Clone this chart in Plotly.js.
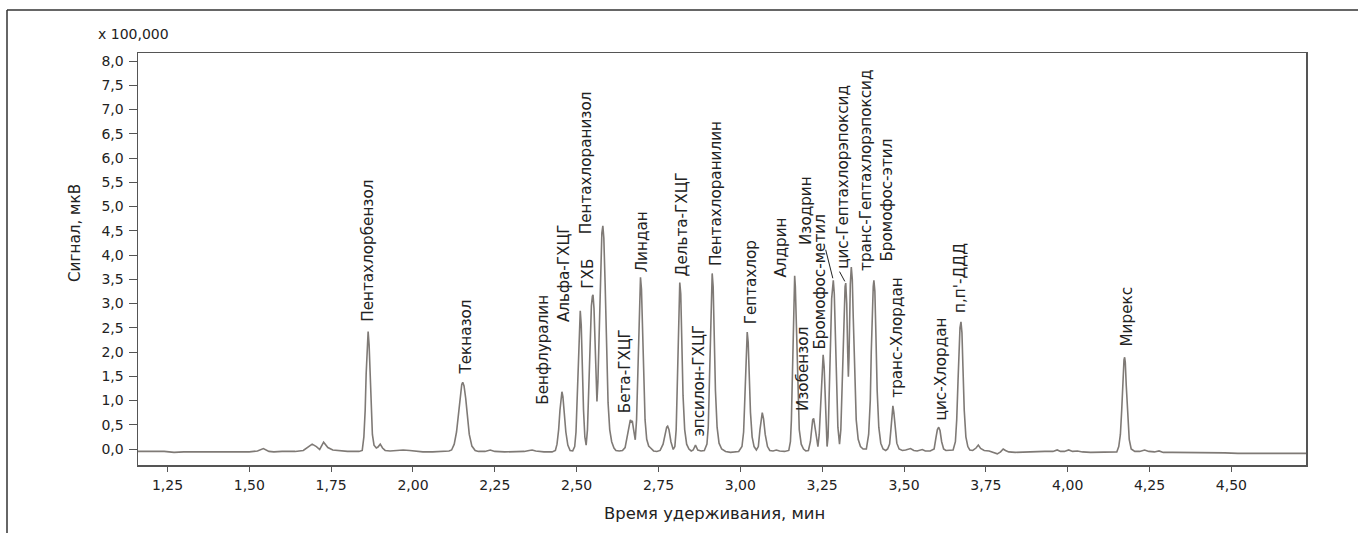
<!DOCTYPE html>
<html>
<head>
<meta charset="utf-8">
<script src="https://cdn.plot.ly/plotly-3.0.1.min.js"></script>
<style>html,body{margin:0;padding:0;background:#fff;}#chart{width:1358px;height:533px;}</style>
</head>
<body>
<div id="chart"></div>
<script>
// ---- DATA ----
// chromatogram points: [retention time (min), signal (x100,000 µV)]
const chromPoints = [
[1.160,-0.05],[1.200,-0.05],[1.240,-0.05],[1.270,-0.07],[1.300,-0.06],[1.350,-0.06],[1.400,-0.06],[1.450,-0.06],[1.500,-0.06],[1.525,-0.04],[1.543,0.01],[1.560,-0.05],[1.575,-0.06],[1.600,-0.05],[1.640,-0.05],[1.665,-0.03],[1.680,0.05],[1.692,0.10],[1.705,0.05],[1.715,-0.01],[1.727,0.14],[1.740,0.03],[1.755,-0.02],[1.780,-0.04],[1.800,-0.05],[1.835,-0.05],
[1.845,-0.03],[1.850,0.25],[1.854,0.80],[1.857,1.55],[1.860,2.15],[1.863,2.42],[1.866,2.15],[1.869,1.50],[1.872,0.80],[1.876,0.30],[1.881,0.08],[1.888,0.02],[1.893,0.04],[1.900,0.10],[1.907,0.02],[1.915,-0.03],[1.930,-0.04],[1.950,-0.03],[1.970,-0.02],[1.990,-0.03],[2.010,-0.05],[2.030,-0.06],[2.060,-0.06],[2.090,-0.05],[2.110,-0.04],
[2.118,-0.02],[2.126,0.10],[2.133,0.35],[2.139,0.75],[2.145,1.15],[2.149,1.33],[2.152,1.375],[2.156,1.30],[2.161,1.05],[2.166,0.65],[2.172,0.30],[2.180,0.06],[2.190,-0.03],[2.200,-0.05],[2.220,-0.05],[2.236,-0.02],[2.250,-0.05],[2.280,-0.06],[2.310,-0.06],[2.340,-0.05],[2.355,-0.03],[2.364,-0.02],[2.375,-0.04],[2.400,-0.06],[2.425,-0.06],[2.435,-0.03],
[2.440,0.10],[2.445,0.40],[2.449,0.80],[2.452,1.08],[2.455,1.18],[2.458,1.08],[2.462,0.75],[2.467,0.35],[2.473,0.08],[2.480,-0.03],[2.488,-0.04],[2.494,0.05],
[2.498,0.35],[2.502,1.10],[2.505,1.90],[2.508,2.60],[2.511,2.85],[2.514,2.55],[2.517,1.70],[2.521,0.80],[2.525,0.25],[2.529,0.08],[2.533,0.40],[2.537,1.30],[2.541,2.30],[2.545,2.95],[2.548,3.15],[2.550,3.18],[2.553,2.90],[2.557,1.90],[2.560,1.20],[2.562,0.98],[2.565,1.40],[2.569,2.60],[2.573,3.80],[2.577,4.45],[2.580,4.60],[2.583,4.35],[2.587,3.40],[2.591,2.10],[2.596,0.95],[2.601,0.40],[2.607,0.15],[2.614,0.02],[2.620,-0.03],[2.630,-0.04],[2.640,-0.03],[2.648,0.03],
[2.654,0.25],[2.659,0.50],[2.664,0.60],[2.667,0.56],[2.670,0.58],[2.674,0.40],[2.679,0.19],[2.683,0.60],[2.687,1.70],[2.690,2.70],[2.693,3.35],[2.695,3.54],[2.698,3.30],[2.701,2.50],[2.705,1.40],[2.709,0.60],[2.714,0.20],[2.720,0.06],[2.726,0.02],[2.735,-0.04],[2.745,-0.05],[2.755,-0.03],[2.764,0.10],[2.770,0.32],[2.775,0.45],[2.778,0.47],[2.782,0.40],[2.788,0.15],[2.795,-0.01],[2.800,0.05],
[2.804,0.40],[2.807,1.20],[2.810,2.30],[2.813,3.20],[2.815,3.43],[2.818,3.20],[2.821,2.30],[2.825,1.10],[2.830,0.40],[2.836,0.10],[2.843,0.00],[2.850,-0.04],[2.856,-0.02],[2.863,0.08],[2.870,-0.02],[2.880,-0.04],[2.890,-0.03],[2.898,0.10],
[2.902,0.45],[2.905,1.20],[2.908,2.30],[2.911,3.25],[2.914,3.62],[2.917,3.35],[2.920,2.40],[2.924,1.20],[2.929,0.45],[2.935,0.12],[2.943,0.00],[2.955,-0.05],[2.970,-0.07],[2.985,-0.06],[2.995,-0.05],[3.005,0.05],
[3.010,0.35],[3.013,0.90],[3.016,1.65],[3.019,2.25],[3.021,2.41],[3.024,2.20],[3.027,1.55],[3.031,0.75],[3.036,0.25],[3.042,0.05],[3.049,-0.02],[3.055,0.05],[3.060,0.40],[3.064,0.68],[3.067,0.75],[3.071,0.62],[3.076,0.30],[3.083,0.05],[3.090,-0.03],[3.100,-0.04],[3.110,-0.02],[3.120,-0.04],[3.135,-0.05],[3.148,-0.03],[3.153,0.15],
[3.156,0.60],[3.159,1.50],[3.162,2.70],[3.164,3.35],[3.166,3.57],[3.168,3.35],[3.171,2.50],[3.175,1.20],[3.180,0.40],[3.186,0.10],[3.193,0.00],[3.200,-0.04],[3.208,-0.03],[3.214,0.15],[3.218,0.45],[3.221,0.60],[3.224,0.63],[3.228,0.45],[3.233,0.15],[3.237,0.05],[3.241,0.30],[3.245,0.90],[3.249,1.60],[3.251,1.85],[3.253,1.94],[3.256,1.70],[3.259,1.00],[3.262,0.40],[3.265,0.05],[3.268,0.25],[3.272,1.10],[3.276,2.30],[3.279,3.10],[3.282,3.42],[3.284,3.48],[3.287,3.20],[3.290,2.40],[3.294,1.20],[3.298,0.45],[3.303,0.10],[3.307,0.40],[3.311,1.30],[3.315,2.40],[3.318,3.10],[3.320,3.35],[3.322,3.42],[3.325,3.00],[3.328,2.00],[3.330,1.49],[3.332,1.90],[3.334,2.80],[3.336,3.40],[3.339,3.75],[3.342,3.50],[3.345,2.70],[3.349,1.50],[3.354,0.60],[3.360,0.20],[3.367,0.05],[3.375,0.00],[3.385,0.00],
[3.392,0.30],[3.397,1.00],[3.400,2.00],[3.403,2.90],[3.406,3.35],[3.408,3.48],[3.411,3.25],[3.414,2.40],[3.418,1.20],[3.423,0.45],[3.429,0.12],[3.436,0.00],[3.444,-0.03],[3.450,0.00],[3.456,0.10],[3.460,0.40],[3.463,0.75],[3.466,0.89],[3.469,0.75],[3.473,0.40],[3.478,0.12],[3.485,0.00],[3.495,-0.03],[3.505,-0.02],[3.520,0.01],[3.530,-0.03],[3.540,-0.04],[3.556,-0.01],[3.565,-0.04],[3.580,-0.04],[3.592,0.00],[3.598,0.25],[3.602,0.40],[3.606,0.45],[3.610,0.38],[3.615,0.15],[3.621,0.00],[3.628,-0.03],[3.640,-0.03],[3.650,-0.02],[3.657,0.15],[3.661,0.60],[3.665,1.40],[3.668,2.10],[3.671,2.50],[3.674,2.62],[3.677,2.40],[3.680,1.70],[3.684,0.80],[3.689,0.25],[3.695,0.05],[3.701,-0.02],[3.710,-0.03],[3.720,0.02],[3.727,0.08],[3.734,0.01],[3.745,-0.03],[3.760,-0.04],[3.775,-0.07],[3.785,-0.10],[3.795,-0.06],[3.803,0.00],[3.810,-0.03],[3.820,-0.06],[3.840,-0.07],[3.870,-0.06],[3.900,-0.05],[3.930,-0.05],[3.955,-0.05],[3.968,-0.02],[3.978,-0.05],[3.990,-0.05],[4.003,-0.02],[4.015,-0.05],[4.030,-0.04],[4.045,-0.06],[4.070,-0.07],[4.100,-0.07],[4.130,-0.07],[4.150,-0.06],
[4.156,0.05],[4.161,0.30],[4.165,0.80],[4.168,1.30],[4.170,1.65],[4.172,1.84],[4.174,1.89],[4.176,1.78],[4.179,1.30],[4.183,0.65],[4.188,0.20],[4.194,0.00],[4.205,-0.05],[4.220,-0.05],[4.235,-0.02],[4.248,-0.05],[4.265,-0.06],[4.279,-0.04],[4.292,-0.07],[4.320,-0.07],[4.360,-0.07],[4.400,-0.08],[4.440,-0.08],[4.480,-0.08],[4.520,-0.09],[4.560,-0.09],[4.600,-0.09],[4.650,-0.09],[4.700,-0.09],[4.728,-0.09]
];

const peakNames = ["Пентахлорбензол","Текназол","Бенфлуралин","Альфа-ГХЦГ","ГХБ","Пентахлоранизол","Бета-ГХЦГ","Линдан","Дельта-ГХЦГ","эпсилон-ГХЦГ","Пентахлоранилин","Гептахлор","Алдрин","Изобензол","Бромофос-метил","Изодрин","цис-Гептахлорэпоксид","транс-Гептахлорэпоксид","Бромофос-этил","транс-Хлордан","цис-Хлордан","п,п'-ДДД","Мирекс"];
const peakTimes = [1.863,2.152,2.455,2.511,2.550,2.580,2.664,2.695,2.815,2.863,2.914,3.021,3.166,3.224,3.253,3.284,3.322,3.339,3.408,3.466,3.606,3.674,4.174];
const peakHeights = [2.42,1.375,1.18,2.85,3.18,4.60,0.60,3.54,3.43,0.08,3.62,2.41,3.57,0.63,1.94,3.48,3.42,3.75,3.48,0.89,0.45,2.62,1.89];

const xTickVals = [1.25,1.50,1.75,2.00,2.25,2.50,2.75,3.00,3.25,3.50,3.75,4.00,4.25,4.50];
const xTickText = ["1,25","1,50","1,75","2,00","2,25","2,50","2,75","3,00","3,25","3,50","3,75","4,00","4,25","4,50"];
const yTickVals = [0,0.5,1,1.5,2,2.5,3,3.5,4,4.5,5,5.5,6,6.5,7,7.5,8];
const yTickText = ["0,0","0,5","1,0","1,5","2,0","2,5","3,0","3,5","4,0","4,5","5,0","5,5","6,0","6,5","7,0","7,5","8,0"];

const xTitle = "Время удерживания, мин";
const yTitle = "Сигнал, мкВ";
const yScaleNote = "x 100,000";

// ---- LAYOUT / STYLE ----
// label offsets from each peak apex in px [dx, dy(up)]
const labelShift = [[-1,8],[3,6],[-19,-15],[-16,-13],[-5,4],[-16,-10],[-5,5],[1,3],[2,4],[4,7],[4,5],[4,6],[-14,-4],[-10,5],[-3,3],[-28,33],[-3,12],[14,-6],[13,17],[4,6],[2,5],[-1,7],[2,9]];
// leader lines: peak index -> [ax, ay] px from apex
const leaders = {15:[-8,-32],16:[-7,-13]};

const FONT = '"DejaVu Sans", "Open Sans", sans-serif';
const TEXTC = '#222';

const trace = {
  type: 'scatter', mode: 'lines',
  x: chromPoints.map(p => p[0]),
  y: chromPoints.map(p => p[1]),
  line: {color: '#7f7a76', width: 1.6},
  hoverinfo: 'skip', showlegend: false
};

const annotations = peakNames.map((name, i) => ({
  x: peakTimes[i], y: peakHeights[i], xref: 'x', yref: 'y',
  text: name, showarrow: false, textangle: -90,
  xanchor: 'center', yanchor: 'bottom',
  xshift: labelShift[i][0], yshift: labelShift[i][1],
  font: {family: FONT, size: 15.2, color: TEXTC}
}));
Object.keys(leaders).forEach(k => {
  const i = +k;
  annotations.push({
    x: peakTimes[i], y: peakHeights[i], xref: 'x', yref: 'y',
    text: '', showarrow: true, arrowhead: 0, arrowwidth: 1, arrowcolor: '#222',
    ax: leaders[k][0], ay: leaders[k][1], standoff: 2
  });
});

const L = 138, R = 52, T = 53, B = 68, W = 1358, H = 533;
const pw = W - L - R, ph = H - T - B;
const px2x = p => (p - L) / pw;
const py2y = p => (H - B - p) / ph;

annotations.push({xref:'paper', yref:'paper', x: px2x(171), y: py2y(34), xanchor:'right', yanchor:'middle',
  text: yScaleNote, showarrow:false, font:{family:FONT, size:14, color:TEXTC}});
annotations.push({xref:'paper', yref:'paper', x: px2x(75), y: py2y(233), xanchor:'center', yanchor:'middle',
  text: yTitle, textangle:-90, showarrow:false, font:{family:FONT, size:15.2, color:TEXTC}});
annotations.push({xref:'paper', yref:'paper', x: px2x(714), y: py2y(513), xanchor:'center', yanchor:'middle',
  text: xTitle, showarrow:false, font:{family:FONT, size:16.4, color:TEXTC}});

const layout = {
  width: W, height: H,
  margin: {l: L, r: R, t: T, b: B, pad: 0},
  paper_bgcolor: '#ffffff', plot_bgcolor: '#ffffff',
  font: {family: FONT, size: 14, color: TEXTC},
  showlegend: false,
  xaxis: {
    range: [1.16, 4.728], tickvals: xTickVals, ticktext: xTickText,
    ticks: 'outside', ticklen: 5, tickwidth: 1, tickcolor: '#555',
    ticklabelstandoff: 2,
    showline: true, linecolor: '#555', linewidth: 1.5, mirror: true,
    showgrid: false, zeroline: false,
    tickfont: {family: FONT, size: 14, color: TEXTC}
  },
  yaxis: {
    range: [-0.33, 8.165], tickvals: yTickVals, ticktext: yTickText,
    ticks: 'outside', ticklen: 8, tickwidth: 1, tickcolor: '#555',
    ticklabelstandoff: 2,
    showline: true, linecolor: '#555', linewidth: 1.5, mirror: true,
    showgrid: false, zeroline: false,
    tickfont: {family: FONT, size: 14, color: TEXTC}
  },
  annotations: annotations,
  shapes: [
    {type:'line', xref:'paper', yref:'paper', x0:px2x(7), x1:px2x(7), y0:py2y(533), y1:py2y(10), line:{color:'#333', width:1.5}},
    {type:'line', xref:'paper', yref:'paper', x0:px2x(7), x1:px2x(1358), y0:py2y(10), y1:py2y(10), line:{color:'#333', width:1.5}}
  ]
};

Plotly.newPlot('chart', [trace], layout, {staticPlot: true, displayModeBar: false});
</script>
</body>
</html>
